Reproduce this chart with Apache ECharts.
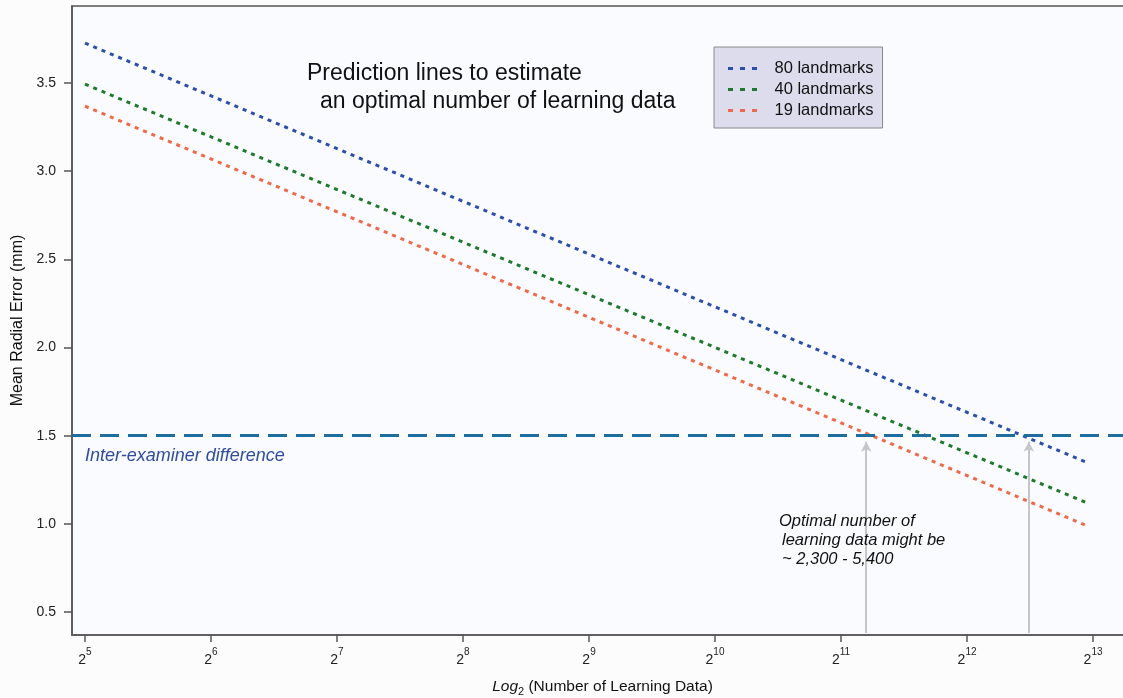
<!DOCTYPE html>
<html><head><meta charset="utf-8">
<script src="https://cdn.jsdelivr.net/npm/echarts@6/dist/echarts.min.js"></script>
<style>html,body{margin:0;padding:0;background:#fdfcfc;}#c{width:1123px;height:698px;}</style>
</head><body><div id="c"></div>
<script>
// exponents of 2 (x), mean radial error in mm (y)
const xEnds = [5, 12.95];
const blue80 = [3.727, 1.348];
const green40 = [3.494, 1.119];
const red19 = [3.369, 0.989];
const seriesNames = ['80 landmarks', '40 landmarks', '19 landmarks'];
const xTicks = [5, 6, 7, 8, 9, 10, 11, 12, 13];
const yTicks = [0.5, 1.0, 1.5, 2.0, 2.5, 3.0, 3.5];
const threshold = 1.5;
const arrowX = [11.2, 12.49];
const arrowFromY = 0.38;
const arrowToY = 1.465;

const FONT = 'Liberation Sans, Arial, sans-serif';
const xMin = 4.897, xMax = 13.317, yMin = 0.369, yMax = 3.9375;

function pts(ys) { return xEnds.map((x, i) => [x, ys[i]]); }
const colors = ['#2a4db0', '#1c7a2c', '#f26846'];
const chart = echarts.init(document.getElementById('c'));
const lineSeries = [blue80, green40, red19].map((d, i) => ({
  name: seriesNames[i], type: 'line', data: pts(d), symbol: 'none', z: 3,
  lineStyle: { color: colors[i], width: 3, type: [4, 5] },
  itemStyle: { color: colors[i] }
}));
lineSeries.push({
  type: 'line', data: [], z: 2,
  markLine: {
    silent: true, symbol: 'none', animation: false,
    lineStyle: { color: '#1d6d9e', width: 3, type: [19, 9] },
    label: { show: false },
    data: [{ yAxis: threshold }]
  }
});
lineSeries.push({
  type: 'line', data: [], z: 1,
  markLine: {
    silent: true, animation: false, symbol: ['none', 'arrow'], symbolSize: [8, 10],
    lineStyle: { color: '#c4c6ca', width: 2, type: 'solid' },
    label: { show: false },
    data: arrowX.map(x => [{ coord: [x, arrowFromY] }, { coord: [x, arrowToY] }])
  }
});

chart.setOption({
  animation: false,
  backgroundColor: '#fdfcfc',
  textStyle: { fontFamily: FONT },
  grid: { left: 72, right: -10, top: 6, bottom: 63, show: true, containLabel: false,
          outerBoundsMode: 'none',
          backgroundColor: '#fafbfe', borderColor: '#555', borderWidth: 1.5 },
  legend: {
    left: 714, top: 47, orient: 'vertical', itemWidth: 30, itemHeight: 3, itemGap: 4,
    backgroundColor: '#dcdcec', borderColor: '#8a8a8a', borderWidth: 1, borderRadius: 0,
    padding: [13, 9, 9, 14],
    icon: 'path://M0,0h5v3h-5z M12,0h5v3h-5z M24,0h5v3h-5z',
    data: seriesNames,
    textStyle: { fontSize: 16.5, color: '#111', fontFamily: FONT, padding: [0, 0, 0, 12], lineHeight: 16 }
  },
  xAxis: {
    type: 'value', min: xMin, max: xMax,
    splitLine: { show: false },
    axisLine: { show: true, lineStyle: { color: '#555', width: 1.5 } },
    axisTick: { show: true, length: 7, customValues: xTicks, lineStyle: { color: '#555', width: 1.5 } },
    axisLabel: {
      customValues: xTicks, margin: 12,
      formatter: v => '{b|2}{s|' + v + '}',
      rich: { b: { fontSize: 14, color: '#222', fontFamily: FONT, padding: [6, 0, 0, 0] },
              s: { fontSize: 10, color: '#222', fontFamily: FONT, verticalAlign: 'top', padding: [0, 0, 0, 0] } }
    },
    name: '{i|Log}{sub|2} (Number of Learning Data)', nameLocation: 'middle', nameGap: 42,
    nameTextStyle: {
      fontSize: 15.5, color: '#111', fontFamily: FONT,
      rich: { i: { fontSize: 15.5, fontStyle: 'italic', color: '#111', fontFamily: FONT },
              sub: { fontSize: 11, color: '#111', fontFamily: FONT, padding: [9, 0, 0, 0] } }
    }
  },
  yAxis: {
    type: 'value', min: yMin, max: yMax,
    splitLine: { show: false },
    axisLine: { show: true, lineStyle: { color: '#555', width: 1.5 } },
    axisTick: { show: true, length: 8, customValues: yTicks, lineStyle: { color: '#555', width: 1.5 } },
    axisLabel: { customValues: yTicks, margin: 16, fontSize: 14, color: '#222', fontFamily: FONT,
                 formatter: v => v.toFixed(1) },
    name: 'Mean Radial Error (mm)', nameLocation: 'middle', nameGap: 46, nameRotate: 90,
    nameTextStyle: { fontSize: 16, color: '#111', fontFamily: FONT }
  },
  graphic: [
    { type: 'text', left: 307, top: 62, z: 10,
      style: { text: 'Prediction lines to estimate', font: '23px ' + FONT, fill: '#111' } },
    { type: 'text', left: 320, top: 90, z: 10,
      style: { text: 'an optimal number of learning data', font: '23px ' + FONT, fill: '#111' } },
    { type: 'text', left: 85, top: 447, z: 10,
      style: { text: 'Inter-examiner difference', font: 'italic 18px ' + FONT, fill: '#2f4c9e' } },
    { type: 'text', left: 779, top: 513, z: 10,
      style: { text: 'Optimal number of', font: 'italic 16.5px ' + FONT, fill: '#111' } },
    { type: 'text', left: 782, top: 532, z: 10,
      style: { text: 'learning data might be', font: 'italic 16.5px ' + FONT, fill: '#111' } },
    { type: 'text', left: 782, top: 551, z: 10,
      style: { text: '~ 2,300 - 5,400', font: 'italic 16.5px ' + FONT, fill: '#111' } }
  ],
  series: lineSeries
});
</script></body></html>
